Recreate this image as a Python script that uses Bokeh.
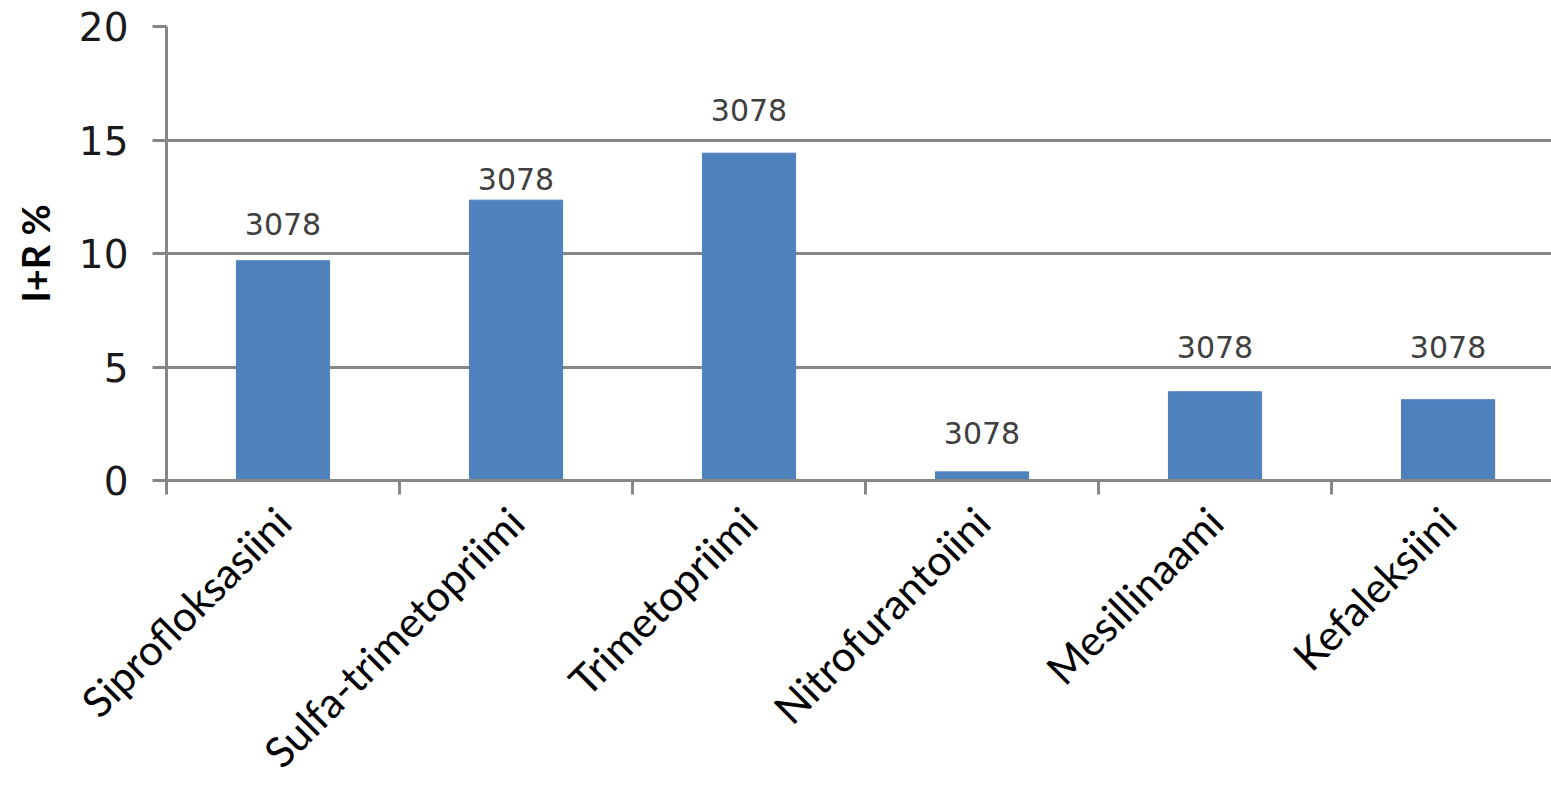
from bokeh.plotting import figure
from bokeh.models import Range1d, FixedTicker, ColumnDataSource
from bokeh.core.properties import value
from bokeh.embed import file_html
from bokeh.resources import INLINE

categories = ["Siprofloksasiini", "Sulfa-trimetopriimi", "Trimetopriimi",
              "Nitrofurantoiini", "Mesillinaami", "Kefaleksiini"]
ir_percent = [9.68, 12.35, 14.42, 0.38, 3.91, 3.56]
n_labels = ["3078", "3078", "3078", "3078", "3078", "3078"]
label_y = [11.3, 13.3, 16.3, 2.1, 5.9, 5.9]
y_ticks = [0, 5, 10, 15, 20]

xc = [i + 0.5 for i in range(len(categories))]
src = ColumnDataSource(dict(x=xc, top=ir_percent, ly=label_y, lab=n_labels))

GRAY = "#868686"
p = figure(width=1551, height=797, output_backend="svg", toolbar_location=None,
           x_range=Range1d(0, 5.944), y_range=Range1d(0, 20),
           min_border_left=166, min_border_right=0, min_border_top=26,
           min_border_bottom=316)
p.outline_line_color = None
p.background_fill_color = "white"
p.border_fill_color = "white"

p.vbar(x="x", top="top", bottom=0, width=0.4, source=src,
       fill_color="#4F81BD", line_color="#4F81BD", line_width=1)
p.text(x="x", y="ly", text="lab", source=src, text_align="center",
       text_baseline="middle", text_font=value("DejaVu Sans"),
       text_font_size="30px", text_color="#404040")

# y axis
p.yaxis.ticker = FixedTicker(ticks=y_ticks)
p.yaxis.axis_line_color = GRAY
p.yaxis.axis_line_width = 3
p.yaxis.major_tick_line_color = GRAY
p.yaxis.major_tick_line_width = 3
p.yaxis.major_tick_out = 14
p.yaxis.major_tick_in = 0
p.yaxis.minor_tick_line_color = None
p.yaxis.major_label_text_font = "DejaVu Sans"
p.yaxis.major_label_text_font_size = "39px"
p.yaxis.major_label_text_color = "#1a1a1a"
p.yaxis.major_label_standoff = 24
p.yaxis.axis_label = "I+R %"
p.yaxis.axis_label_text_font = "Lato"
p.yaxis.axis_label_text_font_style = "bold"
p.yaxis.axis_label_text_font_size = "38px"
p.yaxis.axis_label_text_color = "#000000"
p.yaxis.axis_label_standoff = 18

# x axis
p.xaxis.ticker = FixedTicker(ticks=xc, minor_ticks=list(range(len(categories) + 1)))
p.xaxis.major_label_overrides = {x: c for x, c in zip(xc, categories)}
p.xaxis.major_label_orientation = 0.785398
p.xaxis.axis_line_color = GRAY
p.xaxis.axis_line_width = 3
p.xaxis.major_tick_line_color = None
p.xaxis.minor_tick_line_color = GRAY
p.xaxis.minor_tick_line_width = 3
p.xaxis.minor_tick_out = 14
p.xaxis.minor_tick_in = 0
p.xaxis.major_label_text_font = "Lato"
p.xaxis.major_label_text_font_size = "42px"
p.xaxis.major_label_text_color = "#000000"
p.xaxis.major_label_standoff = 20

p.xgrid.grid_line_color = None
p.ygrid.grid_line_color = GRAY
p.ygrid.grid_line_width = 3

open("out.html", "w").write(file_html(p, INLINE))
